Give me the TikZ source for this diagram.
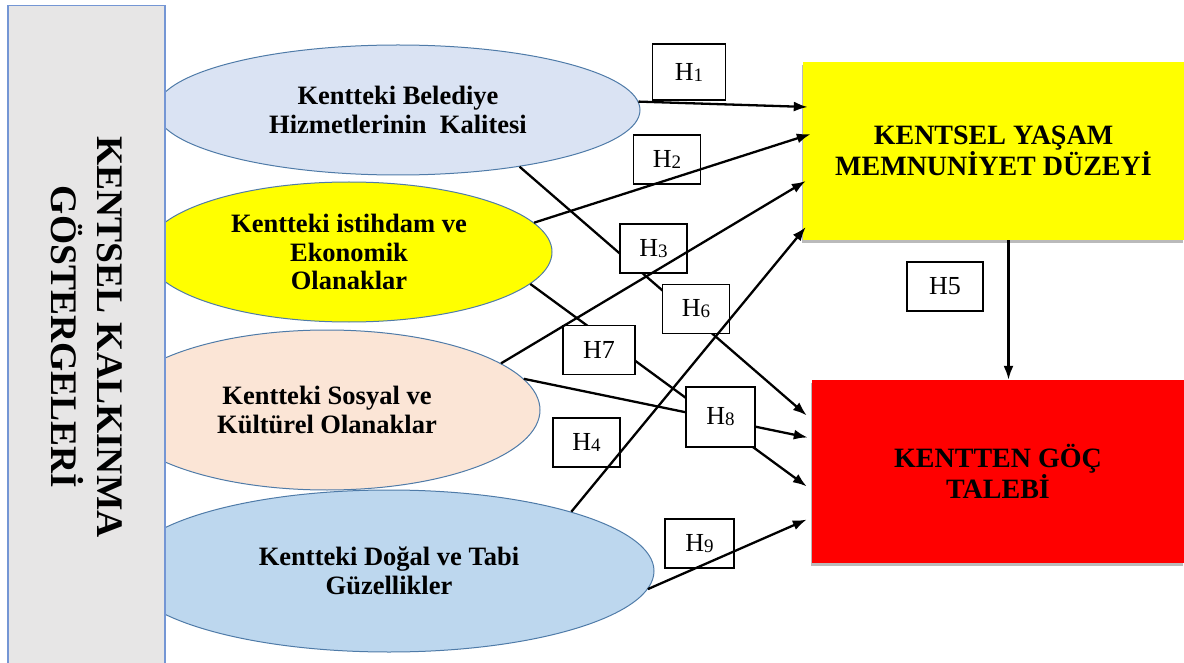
\documentclass[tikz,border=0pt]{standalone}
\usepackage{fontspec}
\setmainfont{Liberation Serif}
\usetikzlibrary{shapes.geometric,arrows.meta,shadows}

\definecolor{panelgray}{HTML}{E7E6E6}
\definecolor{panelblue}{HTML}{7496D4}
\definecolor{ovalline}{HTML}{4F7BA8}
\definecolor{belblue}{HTML}{DAE3F3}
\definecolor{sosyal}{HTML}{FBE5D6}
\definecolor{dogal}{HTML}{BDD7EE}
\definecolor{sari}{HTML}{FFFF00}
\definecolor{kirmizi}{HTML}{FF0000}

\newcommand{\hsub}[1]{H\raisebox{-1pt}{\fontsize{19}{19}\selectfont #1}}

\begin{document}
\begin{tikzpicture}
    [x=1pt, y=-1pt,
    ->-/.style={line width=2.3pt, -{Latex[length=14pt, width=10pt]}},
    oval/.style={ellipse, draw=ovalline, line width=1pt, inner sep=0pt, align=center,
        font=\fontsize{26.5}{28.5}\selectfont\bfseries},
    target/.style={rectangle, inner sep=0pt, align=center,
        font=\fontsize{28}{31}\selectfont\bfseries,
        drop shadow={shadow xshift=-1pt, shadow yshift=-3pt, fill=black!45, opacity=.6}},
    hbox/.style={draw, fill=white, line width=1.1pt, inner sep=0pt,
        minimum width=67pt, minimum height=49pt, font=\fontsize{26}{26}\selectfont}]
        \useasboundingbox (0,0) rectangle (1184,663);
        \clip (0,0) rectangle (1184,663);

        %% Ellipses
        \node[oval, fill=belblue, minimum width=484pt, minimum height=130pt] (E1) at (398,110) {Kentteki Belediye\\Hizmetlerinin\ \ Kalitesi};
        \node[oval, fill=sari, minimum width=406pt, minimum height=140pt] (E2) at (349,252) {Kentteki istihdam ve\\Ekonomik\\Olanaklar};
        \node[oval, fill=sosyal, minimum width=426pt, minimum height=160pt] (E3) at (327,410) {Kentteki Sosyal ve\\Kültürel Olanaklar};
        \node[oval, fill=dogal, minimum width=530pt, minimum height=162pt] (E4) at (389,571) {Kentteki Doğal ve Tabi\\Güzellikler};

        %% Left panel
        \node[draw=panelblue, fill=panelgray, line width=1.2pt, rotate=-90, minimum width=663pt, minimum height=157pt,
            align=center, font=\fontsize{37.5}{46}\selectfont\bfseries] (K) at (86.5,337) {KENTSEL KALKINMA\\GÖSTERGELERİ};

        %% Outcome boxes
        \node[target, fill=sari, minimum width=381pt, minimum height=178pt] (Y) at (993.5,151) {KENTSEL YAŞAM\\MEMNUNİYET DÜZEYİ};
        \node[target, fill=kirmizi, minimum width=372pt, minimum height=183pt] (R) at (998,471.5) {KENTTEN GÖÇ\\TALEBİ};

        %% Paths behind the labels
        \draw[->-] (E1.-25) -- ([xshift=-5pt, yshift=56pt]R.west);
        \draw[->-] (E2.-10) -- ([xshift=-5pt, yshift=-15pt]R.west);
        \draw[->-] (E3.9) -- ([xshift=-4pt, yshift=34pt]R.west);

        %% Hypotheses
        \node[hbox, minimum width=73pt, minimum height=56pt] (H1) at (689,72) {\hsub{1}};
        \node[hbox] (H2) at (667,159.5) {\hsub{2}};
        \node[hbox] (H3) at (653.5,248.5) {\hsub{3}};
        \node[hbox] (H6) at (696,309) {\hsub{6}};
        \node[hbox, minimum width=72pt] (H7) at (599,350) {H7};
        \node[hbox, minimum width=69pt, minimum height=60pt] (H8) at (720.5,417) {\hsub{8}};
        \node[hbox] (H4) at (586.5,442.5) {\hsub{4}};
        \node[hbox, minimum width=69pt] (H9) at (699.5,543.5) {\hsub{9}};
        \node[hbox, minimum width=76pt] (H5) at (945,286.5) {H5};

        %% Paths over the labels
        \draw[->-] (E1.2) -- ([xshift=5pt, yshift=44pt]Y.west);
        \draw[->-] (E2.9) -- ([xshift=8pt, yshift=17pt]Y.west);
        \draw[->-] (E3.15) -- ([xshift=3pt, yshift=-30pt]Y.west);
        \draw[->-] (E4.18) -- ([xshift=3pt, yshift=-76pt]Y.west);
        \draw[->-] (E4.-4) -- ([xshift=-5pt, yshift=-48pt]R.west);
        \draw[->-] ([xshift=15pt]Y.south) -- ([xshift=15pt]Y.south |- R.north);
    \end{tikzpicture}
\end{document}
